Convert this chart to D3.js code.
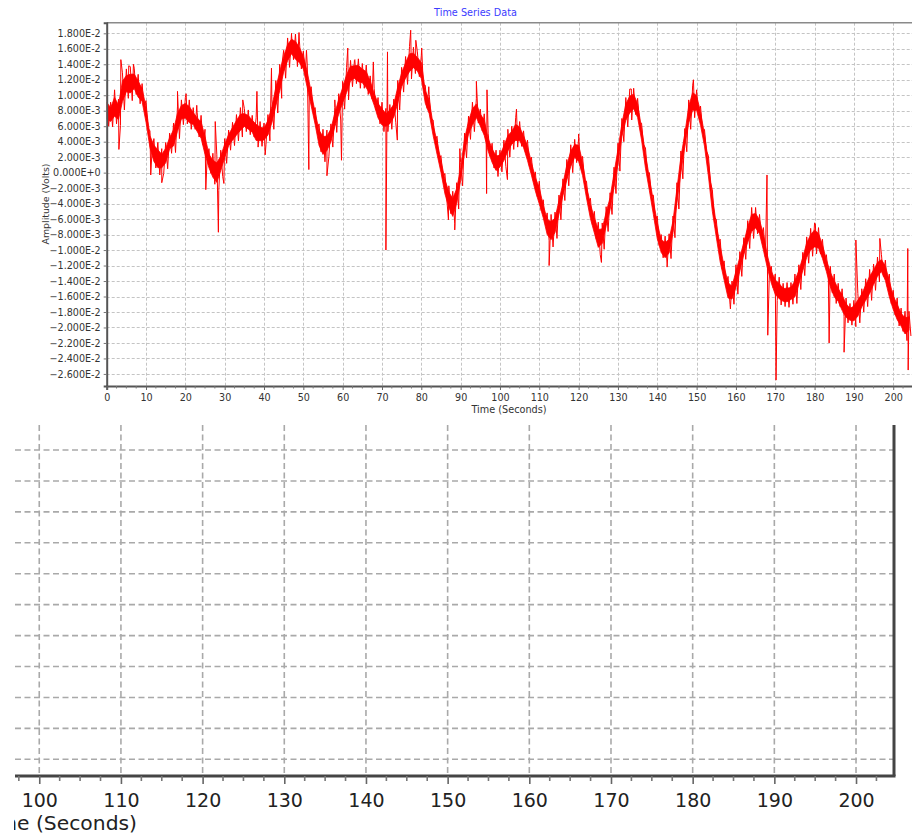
<!DOCTYPE html>
<html>
<head>
<meta charset="utf-8">
<script src="https://cdn.jsdelivr.net/npm/d3@7"></script>
<style>
  html, body { margin: 0; padding: 0; background: #fff; }
  svg { display: block; font-family: "DejaVu Sans", Verdana, sans-serif; }
</style>
</head>
<body>
<svg id="chart" width="912" height="836"></svg>
<script>
// ---- chart text ----
const chartTitle = "Time Series Data";
const xAxisTitle = "Time (Seconds)";
const yAxisTitle = "Amplitude (Volts)";

// ---- tick values ----
const xTickValues = [0, 10, 20, 30, 40, 50, 60, 70, 80, 90, 100, 110, 120, 130, 140, 150, 160, 170, 180, 190, 200];
const yTickValues = [0.018, 0.016, 0.014, 0.012, 0.010, 0.008, 0.006, 0.004, 0.002, 0,
  -0.002, -0.004, -0.006, -0.008, -0.010, -0.012, -0.014, -0.016, -0.018, -0.020, -0.022, -0.024, -0.026];
const detailXTickValues = [100, 110, 120, 130, 140, 150, 160, 170, 180, 190, 200];
const detailYGridValues = [-0.006, -0.008, -0.010, -0.012, -0.014, -0.016, -0.018, -0.020, -0.022, -0.024, -0.026];

// ---- signal: per-second centre level and noise half-band (millivolts) ----
const centerMv = [
  8.0, 7.5, 8.5, 7.8, 10.5, 11.5, 11.5, 11.8, 10.8, 10.0,
  7.5, 4.0, 2.5, 1.8, 1.5, 2.2, 3.8, 4.5, 6.5, 7.8,
  8.0, 7.5, 7.0, 6.2, 5.5, 3.5, 1.5, 0.5, 0.0, 1.2,
  2.8, 4.2, 5.0, 5.8, 6.5, 6.8, 6.5, 6.0, 5.2, 5.0,
  5.0, 5.8, 7.5, 9.8, 11.8, 14.0, 15.5, 16.3, 15.8, 15.2,
  14.2, 12.0, 9.5, 7.0, 4.5, 3.5, 3.8, 4.8, 6.8, 8.5,
  10.0, 11.5, 12.8, 13.0, 12.8, 12.5, 12.0, 11.0, 9.5, 8.0,
  7.2, 6.8, 7.2, 8.0, 10.0, 12.0, 13.2, 14.2, 14.5, 14.0,
  13.2, 9.8, 8.5, 5.5, 3.2, 0.8, -1.8, -3.5, -4.5, -3.0,
  -0.2, 3.5, 5.8, 7.2, 8.0, 6.8, 5.8, 3.6, 2.2, 1.2,
  1.5, 2.5, 3.8, 4.5, 5.2, 5.0, 4.0, 2.5, 0.5, -1.5,
  -3.0, -5.0, -7.0, -7.5, -6.8, -4.5, -2.2, 0.0, 1.8, 2.8,
  2.5, 0.5, -2.5, -5.0, -6.8, -8.5, -8.2, -6.0, -4.0, -1.0,
  2.0, 5.5, 7.8, 8.8, 9.2, 8.0, 5.0, 1.5, -1.5, -4.5,
  -7.5, -9.5, -10.0, -9.5, -7.0, -3.0, 1.0, 4.2, 7.5, 9.2,
  9.0, 7.0, 4.2, 0.5, -4.0, -7.5, -10.5, -13.0, -15.2, -15.5,
  -13.8, -11.8, -9.8, -8.0, -6.5, -6.2, -7.0, -9.0, -11.5, -13.5,
  -14.8, -15.3, -15.8, -15.8, -15.6, -15.0, -13.5, -11.8, -10.0, -9.0,
  -8.5, -8.8, -10.2, -12.0, -13.8, -15.0, -15.8, -16.8, -17.8, -18.3,
  -18.2, -17.5, -16.5, -15.5, -14.5, -13.5, -12.5, -12.0, -13.0, -15.0,
  -16.8, -18.0, -19.0, -19.8, -19.5
];
const bandMv = [
  2.0, 1.6, 2.2, 1.7, 2.4, 1.9, 2.2, 1.7, 1.9, 1.5,
  1.8, 1.4, 1.9, 2.1, 1.6, 1.7, 1.3, 1.9, 2.1, 1.6,
  1.7, 1.9, 1.4, 1.6, 1.9, 2.1, 1.6, 2.0, 2.3, 1.7,
  1.6, 1.3, 1.5, 1.7, 1.9, 1.5, 1.6, 1.4, 1.9, 1.6,
  1.4, 1.7, 1.9, 2.1, 2.2, 1.8, 1.9, 1.7, 2.1, 1.8,
  1.5, 1.9, 1.6, 1.4, 1.8, 2.1, 1.7, 1.5, 1.6, 1.7,
  1.8, 2.1, 1.7, 1.5, 1.9, 1.6, 1.9, 1.5, 1.4, 1.7,
  1.9, 1.5, 1.6, 1.5, 1.9, 1.6, 1.8, 2.1, 1.7, 1.6,
  1.9, 1.5, 1.6, 1.3, 1.5, 1.4, 1.7, 1.8, 2.1, 1.7,
  1.5, 1.6, 1.5, 1.9, 1.6, 1.4, 1.8, 1.5, 1.6, 1.7,
  1.4, 1.7, 1.8, 1.5, 1.9, 1.6, 1.4, 1.7, 1.5, 1.6,
  1.9, 1.5, 1.8, 2.1, 1.7, 1.6, 1.4, 1.7, 1.8, 1.5,
  1.9, 1.6, 1.4, 1.7, 1.8, 2.1, 1.7, 1.6, 1.4, 1.7,
  1.8, 1.5, 1.9, 2.0, 1.7, 1.6, 1.4, 1.7, 1.5, 1.6,
  1.9, 1.5, 1.8, 1.6, 1.4, 1.7, 1.8, 1.5, 1.9, 2.1,
  1.7, 1.6, 1.4, 1.7, 1.8, 1.5, 1.9, 1.6, 1.8, 1.5,
  1.9, 1.6, 1.4, 1.8, 2.0, 1.7, 1.6, 1.9, 1.5, 1.4,
  1.7, 1.8, 1.5, 1.6, 1.4, 1.9, 1.6, 1.5, 1.7, 1.8,
  2.0, 1.7, 1.6, 1.4, 1.7, 1.9, 1.5, 1.8, 1.6, 1.4,
  1.7, 1.9, 1.5, 1.8, 2.0, 1.7, 1.6, 1.4, 1.7, 1.9,
  1.6, 1.8, 1.5, 1.9, 1.6
];
// isolated glitches: [seconds, millivolts]
const spikes = [
  [3.1, 3.0], [3.6, 14.6], [5.6, 13.8], [6.8, 14.0], [11.2, -0.3], [14.0, -1.3],
  [18.0, 10.5], [20.2, 10.2], [22.9, 8.7], [25.2, -2.2], [27.6, 6.6], [28.4, -7.7],
  [29.8, -1.4], [34.6, 9.4], [38.2, 10.5], [40.3, 2.3], [41.9, 13.5], [44.5, 13.7],
  [47.0, 17.8], [48.9, 18.1], [50.8, 15.8], [51.4, 0.4], [56.0, -0.4], [58.0, 9.4],
  [59.7, 1.6], [61.3, 16.1], [63.1, 14.6], [67.8, 14.3], [71.0, -10.0], [71.4, 15.6],
  [73.9, 4.2], [77.3, 18.4], [78.6, 17.1], [80.1, 16.1], [81.9, 11.1], [86.9, -6.1],
  [88.5, -7.4], [89.8, 3.1], [94.0, 11.8], [96.6, -2.7], [96.7, 10.7], [101.9, -0.9],
  [104.2, 8.2], [112.5, -12.0], [120.0, 5.0], [125.8, -11.6], [133.4, 10.8],
  [142.5, -12.2], [149.2, 12.0], [158.6, -17.6], [167.9, -0.3], [168.1, -21.0],
  [170.2, -26.8], [180.2, -6.6], [183.7, -22.0], [187.5, -23.2], [190.5, -8.7],
  [196.6, -8.5], [203.7, -9.8], [203.8, -25.5]
];

// ---- trace points: each second swings across its noise band ----
const swing = [];
centerMv.forEach((c, i) => {
  swing.push([i, (c + bandMv[i]) / 1000]);
  swing.push([i + 0.5, (c - bandMv[i]) / 1000]);
});
const trace = swing.concat(spikes.map(([t, mv]) => [t, mv / 1000]))
  .sort((a, b) => a[0] - b[0]);
// solid inner part of the noise band
const CORE = 0.55;
const coreRows = centerMv.map((c, i) => ({
  t: i, hi: (c + CORE * bandMv[i]) / 1000, lo: (c - CORE * bandMv[i]) / 1000
}));

const fmtSci = v => d3.format(".3e")(v).replace("e", "E");
const FONT = "DejaVu Sans, Verdana, sans-serif";

const svg = d3.select("#chart");

// ================= main plot =================
const plot = { left: 106.7, right: 912.5, top: 22.7, bottom: 386 };
const x = d3.scaleLinear().domain([0, 204.9]).range([plot.left, plot.right]);
const y = d3.scaleLinear().domain([-0.02756, 0.01937]).range([plot.bottom, plot.top]);

svg.append("text")
  .attr("x", 475.5).attr("y", 15.5)
  .attr("text-anchor", "middle")
  .attr("font-size", 9.7)
  .attr("fill", "#3c3cff")
  .text(chartTitle);

// grid
const grid = svg.append("g").attr("stroke", "#c4c4c4").attr("stroke-width", 1)
  .attr("stroke-dasharray", "3,2").attr("fill", "none");
grid.selectAll("line.h").data(yTickValues).join("line")
  .attr("class", "h")
  .attr("x1", plot.left).attr("x2", plot.right)
  .attr("y1", d => Math.round(y(d)) + 0.5).attr("y2", d => Math.round(y(d)) + 0.5);
grid.selectAll("line.v").data(xTickValues.filter(d => d > 0)).join("line")
  .attr("class", "v")
  .attr("x1", d => Math.round(x(d)) + 0.5).attr("x2", d => Math.round(x(d)) + 0.5)
  .attr("y1", plot.top).attr("y2", plot.bottom);

// data trace
svg.append("clipPath").attr("id", "plotClip")
  .append("rect").attr("x", plot.left).attr("y", plot.top)
  .attr("width", plot.right - plot.left).attr("height", plot.bottom - plot.top);
const traceG = svg.append("g").attr("clip-path", "url(#plotClip)");
const coreArea = d3.area().x(d => x(d.t)).y0(d => y(d.lo)).y1(d => y(d.hi));
traceG.append("path")
  .attr("d", coreArea(coreRows))
  .attr("fill", "#ff0000")
  .attr("stroke", "#ff0000")
  .attr("stroke-width", 0.8);
const line = d3.line().x(d => x(d[0])).y(d => y(d[1]));
traceG.append("path")
  .attr("d", line(trace))
  .attr("fill", "none")
  .attr("stroke", "#ff0000")
  .attr("stroke-width", 1);

// frame
svg.append("line").attr("x1", plot.left).attr("x2", 912)
  .attr("y1", plot.top).attr("y2", plot.top)
  .attr("stroke", "#8a8a8a").attr("stroke-width", 1.5);

// y axis
const yAxis = d3.axisLeft(y).tickValues(yTickValues).tickFormat(fmtSci).tickSize(3).tickPadding(3);
const gy = svg.append("g").attr("transform", `translate(${plot.left},0)`).call(yAxis);
gy.select(".domain").attr("stroke", "#555").attr("stroke-width", 2);
gy.selectAll(".tick line").attr("stroke", "#777");
gy.selectAll(".tick text").attr("font-size", 9.6).attr("fill", "#333").attr("font-family", FONT);

// x axis
const minorX = d3.range(0, 205, 2.5).filter(d => d % 10 !== 0);
const gx = svg.append("g").attr("transform", `translate(0,${plot.bottom})`)
  .call(d3.axisBottom(x).tickValues(xTickValues).tickFormat(d3.format("d")).tickSize(4).tickPadding(4.5));
gx.select(".domain").attr("stroke", "#555").attr("stroke-width", 2);
gx.selectAll(".tick line").attr("stroke", "#666");
gx.selectAll(".tick text").attr("font-size", 9.6).attr("fill", "#333").attr("font-family", FONT);
gx.selectAll("line.minor").data(minorX).join("line").attr("class", "minor")
  .attr("x1", d => x(d)).attr("x2", d => x(d)).attr("y1", 0).attr("y2", 2.5)
  .attr("stroke", "#777");

svg.append("text")
  .attr("x", 509).attr("y", 413)
  .attr("text-anchor", "middle").attr("font-size", 9.7).attr("fill", "#333")
  .text(xAxisTitle);

svg.append("text")
  .attr("transform", "translate(48.5,204) rotate(-90)")
  .attr("text-anchor", "middle").attr("font-size", 9.4).attr("fill", "#333")
  .text(yAxisTitle);

// ================= enlarged lower-right detail =================
const det = { left: 15, right: 894, top: 425, bottom: 776 };
const xd = d3.scaleLinear().domain([97.03, 204.65]).range([det.left, det.right]);
const yd = d3.scaleLinear().domain([-0.02708, -0.00438]).range([det.bottom, det.top]);

svg.append("clipPath").attr("id", "detClip")
  .append("rect").attr("x", det.left - 1).attr("y", det.top)
  .attr("width", 912 - det.left + 1).attr("height", 836 - det.top);
const detail = svg.append("g").attr("clip-path", "url(#detClip)");

const dgrid = detail.append("g").attr("stroke", "#a9a9a9").attr("stroke-width", 1.6)
  .attr("stroke-dasharray", "6,3.5").attr("fill", "none");
dgrid.selectAll("line.h").data(detailYGridValues).join("line").attr("class", "h")
  .attr("x1", det.left).attr("x2", det.right)
  .attr("y1", d => yd(d)).attr("y2", d => yd(d));
dgrid.selectAll("line.v").data(detailXTickValues).join("line").attr("class", "v")
  .attr("x1", d => xd(d)).attr("x2", d => xd(d))
  .attr("y1", det.top).attr("y2", det.bottom);

// right frame and bottom axis
detail.append("line").attr("x1", det.right).attr("x2", det.right)
  .attr("y1", det.top).attr("y2", det.bottom)
  .attr("stroke", "#444").attr("stroke-width", 3);

const minorD = d3.range(97.5, 205, 2.5).filter(d => d % 10 !== 0);
const gxd = detail.append("g").attr("transform", `translate(0,${det.bottom})`)
  .call(d3.axisBottom(xd).tickValues(detailXTickValues).tickFormat(d3.format("d")).tickSize(8).tickPadding(9.5));
gxd.select(".domain").attr("stroke", "#444").attr("stroke-width", 3)
  .attr("d", `M${det.left},0H${det.right + 1.5}`);
gxd.selectAll(".tick line").attr("stroke", "#666").attr("stroke-width", 1.6);
gxd.selectAll(".tick text").attr("font-size", 19).attr("fill", "#222").attr("font-family", FONT);
gxd.selectAll("line.minor").data(minorD).join("line").attr("class", "minor")
  .attr("x1", d => xd(d)).attr("x2", d => xd(d)).attr("y1", 0).attr("y2", 5)
  .attr("stroke", "#777").attr("stroke-width", 1.6);

detail.append("text")
  .attr("x", 137).attr("y", 829.5)
  .attr("text-anchor", "end").attr("font-size", 20.3).attr("fill", "#222")
  .text(xAxisTitle);
</script>
</body>
</html>
